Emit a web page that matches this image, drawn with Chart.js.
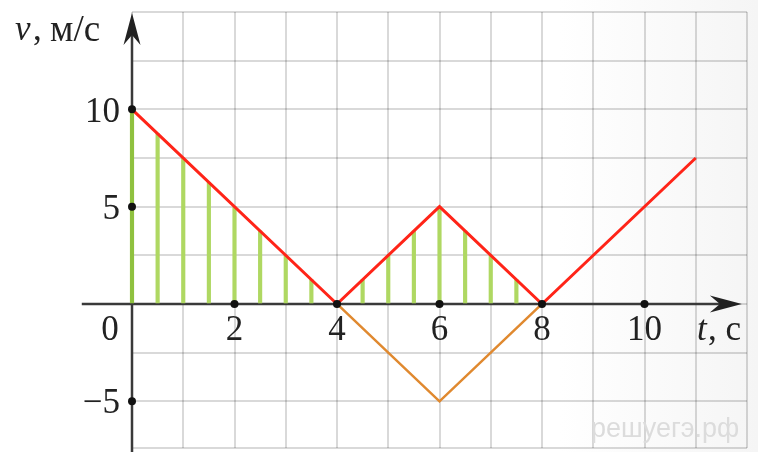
<!DOCTYPE html>
<html>
<head>
<meta charset="utf-8">
<script src="https://cdn.jsdelivr.net/npm/chart.js@4.4.1/dist/chart.umd.min.js"></script>
<style>
  html, body { margin: 0; padding: 0; background: #fff; }
</style>
</head>
<body>
<canvas id="myChart" width="758" height="452"></canvas>
<script>
// v(t) ломаная, красная
const redT = [0, 4, 6, 8, 11];
const redV = [10, 0, 5, 0, 7.5];
// оранжевая ломаная (отражение)
const orangeT = [4, 6, 8];
const orangeV = [0, -5, 0];
// штриховка под графиком (шаг 0.5 с)
const hatchT = [0, 0.5, 1, 1.5, 2, 2.5, 3, 3.5, 4, 4.5, 5, 5.5, 6, 6.5, 7, 7.5];
const hatchV = [10, 8.75, 7.5, 6.25, 5, 3.75, 2.5, 1.25, 0, 1.25, 2.5, 3.75, 5, 3.75, 2.5, 1.25];
// точки-отметки на осях
const dotT = [0, 0, 0, 2, 4, 6, 8, 10];
const dotV = [10, 5, -5, 0, 0, 0, 0, 0];
// подписи делений
const xTickLabels = [2, 4, 6, 8, 10];
const yTickLabels = [10, 5, -5];

const toPoints = (xs, ys) => xs.map((t, i) => ({ x: t, y: ys[i] }));

const serif = '"Liberation Serif", "DejaVu Serif", serif';
const fontSize = 35;

// фон, оси со стрелками, подписи
const axesPlugin = {
  id: 'axes',
  beforeDraw(chart) {
    const { ctx, width, height } = chart;
    const g = ctx.createLinearGradient(560, 0, width, 0);
    g.addColorStop(0, '#ffffff');
    g.addColorStop(1, '#f5f5f5');
    ctx.save();
    ctx.fillStyle = g;
    ctx.fillRect(0, 0, width, height);
    ctx.restore();
  },
  beforeDatasetsDraw(chart) {
    const { ctx, scales: { x, y } } = chart;
    const x0 = x.getPixelForValue(0);
    const y0 = y.getPixelForValue(0);
    const xTip = x.getPixelForValue(11.9);
    const yTip = y.getPixelForValue(14.95);

    ctx.save();
    ctx.strokeStyle = '#3a3a3a';
    ctx.fillStyle = '#222';
    ctx.lineWidth = 2.5;

    ctx.beginPath();
    ctx.moveTo(x.getPixelForValue(-0.98), y0);
    ctx.lineTo(xTip - 10, y0);
    ctx.moveTo(x0, chart.height);
    ctx.lineTo(x0, yTip + 10);
    ctx.stroke();

    const arrow = (px, py, ang) => {
      ctx.save();
      ctx.translate(px, py);
      ctx.rotate(ang);
      ctx.beginPath();
      ctx.moveTo(0, 0);
      ctx.lineTo(-32, -8.5);
      ctx.lineTo(-22, 0);
      ctx.lineTo(-32, 8.5);
      ctx.closePath();
      ctx.fill();
      ctx.restore();
    };
    arrow(xTip, y0, 0);
    arrow(x0, yTip, -Math.PI / 2);
    ctx.restore();
  },
  afterDraw(chart) {
    const { ctx, scales: { x, y } } = chart;
    const x0 = x.getPixelForValue(0);
    const y0 = y.getPixelForValue(0);
    const f = fontSize + 'px ' + serif;
    const fi = 'italic ' + f;
    ctx.save();
    ctx.fillStyle = '#222';
    ctx.font = f;
    ctx.textBaseline = 'middle';

    ctx.textAlign = 'right';
    yTickLabels.forEach(v => {
      const s = v < 0 ? '\u2212' + Math.abs(v) : String(v);
      ctx.fillText(s, x0 - 12, y.getPixelForValue(v) + 3);
    });

    ctx.textAlign = 'center';
    ctx.fillText('0', x0 - 22, y0 + 27);
    xTickLabels.forEach(v => {
      ctx.fillText(String(v), x.getPixelForValue(v), y0 + 27);
    });

    // подпись оси t
    ctx.textAlign = 'left';
    ctx.font = fi;
    ctx.fillText('t', 697, y0 + 27);
    ctx.font = f;
    ctx.fillText(', с', 708, y0 + 27);

    // подпись оси v
    ctx.font = fi;
    ctx.fillText('v', 15, 31);
    ctx.font = f;
    ctx.fillText(',', 33, 31);
    ctx.font = '37px ' + serif;
    ctx.fillText('м/с', 50, 31);

    // водяной знак
    ctx.fillStyle = '#dcdcdc';
    ctx.font = '27px "Liberation Sans", Arial, sans-serif';
    ctx.fillText('решуегэ.рф', 591, 430);
    ctx.restore();
  }
};

const ctx = document.getElementById('myChart').getContext('2d');

const myChart = new Chart(ctx, {
  data: {
    datasets: [
      {
        type: 'scatter',
        data: toPoints(dotT, dotV),
        pointRadius: 4,
        pointBackgroundColor: '#111',
        pointBorderWidth: 0,
        clip: false,
        order: 0,
      },
      {
        type: 'line',
        data: toPoints(redT, redV),
        borderColor: '#ff2418',
        borderWidth: 3,
        pointRadius: 0,
        tension: 0,
        order: 1,
      },
      {
        type: 'line',
        data: toPoints(orangeT, orangeV),
        borderColor: '#e0892f',
        borderWidth: 2.5,
        pointRadius: 0,
        tension: 0,
        order: 2,
      },
      {
        type: 'bar',
        data: hatchT.map((t, i) => ({ x: t, y: [0, hatchV[i]] })),
        backgroundColor: hatchT.map((t, i) => i === 0 ? '#8fc13f' : '#afd862'),
        barThickness: 3.5,
        clip: false,
        order: 3,
      },
    ],
  },
  options: {
    responsive: false,
    animation: false,
    events: [],
    layout: { padding: { left: 132, right: 11, top: 12, bottom: 0 } },
    plugins: { legend: { display: false }, tooltip: { enabled: false } },
    scales: {
      x: {
        type: 'linear',
        min: 0,
        max: 12,
        offset: false,
        ticks: { display: false, stepSize: 1 },
        grid: { color: 'rgba(0,0,0,0.15)', lineWidth: 2, drawTicks: false, offset: false },
        border: { display: false },
      },
      y: {
        min: -7.4,
        max: 15,
        ticks: { display: false, stepSize: 2.5 },
        grid: { color: 'rgba(0,0,0,0.15)', lineWidth: 2, drawTicks: false },
        border: { display: false },
      },
    },
  },
  plugins: [axesPlugin],
});
</script>
</body>
</html>
